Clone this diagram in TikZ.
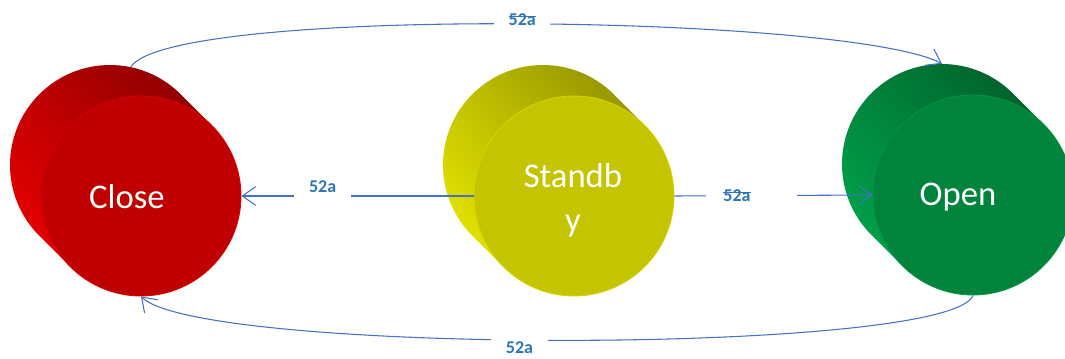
\documentclass[tikz,border=0pt]{standalone}
\usepackage{fontspec}
\setmainfont{Carlito}
\usepackage{xcolor}
\usetikzlibrary{arrows.meta}
\definecolor{clLt}{HTML}{E40000}
\definecolor{clDk}{HTML}{900000}
\definecolor{clFc}{HTML}{C00000}
\definecolor{sbLt}{HTML}{E2E200}
\definecolor{sbDk}{HTML}{969600}
\definecolor{sbFc}{HTML}{C4C400}
\definecolor{opLt}{HTML}{00A04A}
\definecolor{opDk}{HTML}{00622B}
\definecolor{opFc}{HTML}{00843C}
\definecolor{lineblue}{HTML}{4472C4}
\definecolor{labblue}{HTML}{2E75B6}
\newcommand\notlab[1]{\setbox0\hbox{#1}\rlap{\rule[0.47em]{\wd0}{0.07em}}\box0}
\tikzset{
  face/.style={circle,minimum size=150pt,inner sep=0pt},
  stname/.style={text=white,font=\fontsize{26}{33}\selectfont,align=center},
  lab/.style={fill=white,text=labblue,font=\fontsize{13.5}{16}\selectfont\bfseries,inner xsep=11pt,inner ysep=3pt},
  arr/.style={-{Straight Barb[length=10pt,width=14pt]},lineblue,line width=0.8pt},
}
\begin{document}
\begin{tikzpicture}[x=0.75pt,y=-0.75pt]
\useasboundingbox (0,0) rectangle (1065,358);
% the three cylinders
\foreach \nm/\cx/\cy/\lt/\dk/\fc in {close/141/196/clLt/clDk/clFc,stby/574/196/sbLt/sbDk/sbFc,open/973/195/opLt/opDk/opFc} {
  \shade[top color=\dk,middle color=\lt!85!\dk,bottom color=\lt,shading angle=-50]
    (\cx+39.7,\cy-101.7) arc[start angle=-45,end angle=-225,radius=100]
    -- (\cx-70.7,\cy+70.7) -- (\cx+70.7,\cy-70.7) -- cycle;
  \node[face] (\nm-b) at (\cx-31,\cy-31) {};
  \node[face,fill=\fc,draw=\lt!60!\fc,line width=0.6pt] (\nm-f) at (\cx,\cy) {};
}
\node[stname] (closeT) at (127,197) {Close};
\node[stname] (stbyT) at (573,200) {Standb\\y};
\node[stname] (openT) at (958,197) {Open};
% transitions
\draw[arr] (close-b.78) .. controls (170,5) and (850,15) .. node[lab,pos=0.505,yshift=3pt] {\notlab{52a}} (open-b.north);
\draw[arr] (open-f.south) .. controls (950,355) and (200,355) .. node[lab,pos=0.543,yshift=-6pt] {52a} (close-f.south);
\draw[arr] (stby-f.west) -- node[lab,pos=0.65,yshift=7pt] {52a} (close-f.east);
\draw[arr] (stby-f.east) -- node[lab,pos=0.39,inner xsep=13pt] {\notlab{52a}\kern22pt} (open-f.west);
\end{tikzpicture}
\end{document}
